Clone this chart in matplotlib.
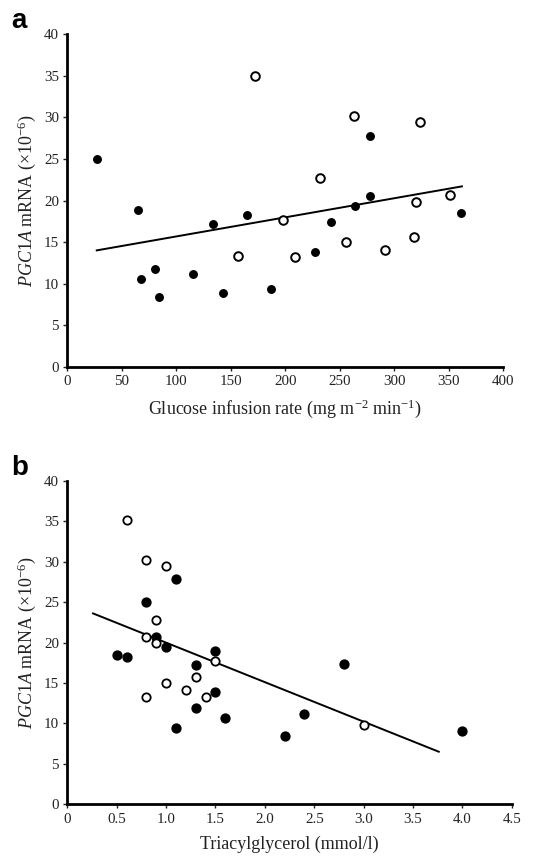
import matplotlib
matplotlib.use('Agg')
import matplotlib.pyplot as plt

plt.rcParams['font.family'] = 'Liberation Serif'
plt.rcParams['mathtext.fontset'] = 'custom'
plt.rcParams['mathtext.rm'] = 'Liberation Serif'
plt.rcParams['mathtext.it'] = 'Liberation Serif:italic'

# panel a: glucose infusion rate
gir_filled_x = [27, 65, 68, 80, 84, 115, 134, 143, 165, 187, 227, 242, 264, 278, 278, 361]
gir_filled_y = [25.0, 18.9, 10.6, 11.8, 8.4, 11.2, 17.2, 8.9, 18.2, 9.35, 13.8, 17.4, 19.4, 27.8, 20.6, 18.5]
gir_open_x = [172, 157, 198, 209, 232, 256, 263, 291, 318, 320, 324, 351]
gir_open_y = [35.0, 13.3, 17.6, 13.2, 22.7, 15.0, 30.2, 14.0, 15.6, 19.8, 29.5, 20.7]
gir_fit_x = [27, 362]
gir_fit_y = [14.0, 21.7]

# panel b: triacylglycerol
tg_filled_x = [0.5, 0.6, 0.8, 0.9, 1.0, 1.1, 1.1, 1.3, 1.3, 1.5, 1.5, 1.6, 2.2, 2.4, 2.8, 4.0]
tg_filled_y = [18.5, 18.2, 25.0, 20.7, 19.4, 27.8, 9.4, 17.2, 11.9, 19.0, 13.9, 10.7, 8.4, 11.2, 17.4, 9.0]
tg_open_x = [0.6, 0.8, 1.0, 0.9, 0.8, 0.9, 1.5, 1.3, 1.0, 1.2, 1.4, 0.8, 3.0]
tg_open_y = [35.1, 30.2, 29.5, 22.8, 20.7, 19.9, 17.7, 15.7, 15.0, 14.1, 13.3, 13.3, 9.8]
tg_fit_x = [0.26, 3.76]
tg_fit_y = [23.6, 6.5]

yticks = [0, 5, 10, 15, 20, 25, 30, 35, 40]
gir_ticks = [0, 50, 100, 150, 200, 250, 300, 350, 400]
tg_ticks = [0, 0.5, 1.0, 1.5, 2.0, 2.5, 3.0, 3.5, 4.0, 4.5]
tg_ticklabels = ['0', '0.5', '1.0', '1.5', '2.0', '2.5', '3.0', '3.5', '4.0', '4.5']

ylab = r'$\mathit{PGC1A}$ mRNA (×10$^{\mathregular{-6}}$)'

fig = plt.figure(figsize=(5.33, 8.56), dpi=100)
ax_a = fig.add_axes([0.1263, 0.5716, 0.818, 0.3883])
ax_b = fig.add_axes([0.1263, 0.0604, 0.834, 0.378])


def style(ax):
    for s in ['top', 'right']:
        ax.spines[s].set_visible(False)
    for s in ['left', 'bottom']:
        ax.spines[s].set_linewidth(2.0)
    ax.tick_params(direction='out', length=3, width=1, labelsize=10.8,
                   colors='#222222', pad=3)
    ax.set_ylim(0, 40)
    ax.set_yticks(yticks)
    ax.set_ylabel(ylab, fontsize=13, color='#222222', labelpad=4)


ax_a.plot(gir_fit_x, gir_fit_y, color='black', lw=1.4, zorder=2)
ax_a.plot(gir_filled_x, gir_filled_y, 'o', color='black', ms=5.4, zorder=3)
ax_a.plot(gir_open_x, gir_open_y, 'o', mfc='white', mec='black', mew=1.4, ms=6.2, zorder=3)
style(ax_a)
ax_a.set_xlim(0, 400)
ax_a.set_xticks(gir_ticks)
ax_a.set_xlabel('Glucose infusion rate (mg m$^{\\mathregular{-2}}$ min$^{\\mathregular{-1}}$)',
                fontsize=13, color='#222222', labelpad=7)

ax_b.plot(tg_fit_x, tg_fit_y, color='black', lw=1.4, zorder=2)
ax_b.plot(tg_filled_x, tg_filled_y, 'o', color='black', ms=6.4, zorder=3)
ax_b.plot(tg_open_x, tg_open_y, 'o', mfc='white', mec='black', mew=1.3, ms=6.0, zorder=3)
style(ax_b)
ax_b.set_xlim(0, 4.5)
ax_b.set_xticks(tg_ticks)
ax_b.set_xticklabels(tg_ticklabels)
ax_b.set_xlabel('Triacylglycerol (mmol/l)', fontsize=13, color='#222222', labelpad=7)

fig.text(11 / 533, 1 - 28 / 856, 'a', fontsize=20, fontweight='bold',
         family='Liberation Sans', va='baseline')
fig.text(11 / 533, 1 - 475 / 856, 'b', fontsize=20, fontweight='bold',
         family='Liberation Sans', va='baseline')

fig.savefig('out.png', dpi=100)
